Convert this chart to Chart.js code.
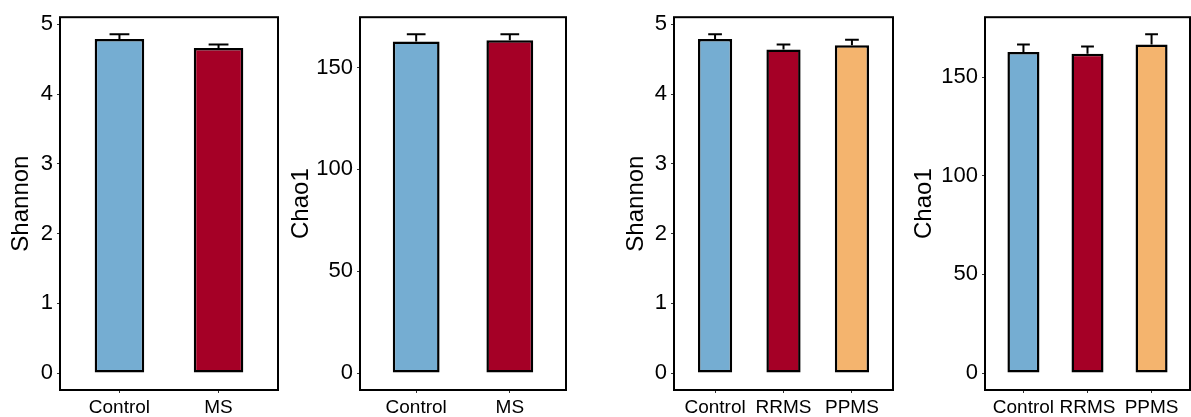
<!DOCTYPE html>
<html>
<head>
<meta charset="utf-8">
<script src="https://cdn.jsdelivr.net/npm/chart.js@4.4.0/dist/chart.umd.min.js"></script>
<style>
  html, body { margin: 0; padding: 0; background: #ffffff; }
  #wrap { position: relative; width: 1191px; height: 417px; overflow: hidden; }
  canvas { position: absolute; top: 0; }
</style>
</head>
<body>
<div id="wrap">
  <canvas id="p1" width="280" height="417" style="left:0px"></canvas>
  <canvas id="p2" width="300" height="417" style="left:280px"></canvas>
  <canvas id="p3" width="285" height="417" style="left:615px"></canvas>
  <canvas id="p4" width="288" height="417" style="left:903px"></canvas>
</div>
<script>
const groupsMS = ['Control', 'MS'];
const groupsSub = ['Control', 'RRMS', 'PPMS'];
const barColors = ['#75ADD2', '#A50026', '#F4B46E'];

const shannonMeanMS = [4.79, 4.66];
const shannonUpperMS = [4.86, 4.71];
const chao1MeanMS = [162.8, 163.4];
const chao1UpperMS = [166.3, 166.4];

const shannonMeanSub = [4.79, 4.64, 4.70];
const shannonUpperSub = [4.86, 4.71, 4.78];
const chao1MeanSub = [162.8, 161.8, 166.5];
const chao1UpperSub = [166.5, 165.5, 171.8];

const shannonTicks = [0, 1, 2, 3, 4, 5];
const chao1Ticks = [0, 50, 100, 150];

const fontFamily = "'Liberation Sans', Arial, Helvetica, sans-serif";

function makePanel(id, title, groups, means, uppers, yTicks, axisWidth, padRight) {
    const top = Math.max(...uppers);
    const ctx = document.getElementById(id).getContext('2d');

    // upper error bar + panel border
    const decorations = {
        id: 'decorations',
        afterDatasetsDraw(chart) {
            const c = chart.ctx;
            const xs = chart.scales.x;
            const ys = chart.scales.y;
            c.save();
            c.strokeStyle = '#000000';
            c.lineWidth = 2;
            means.forEach((m, i) => {
                const x = xs.getPixelForValue(i + 1);
                const half = (xs.getPixelForValue(i + 1.1) - xs.getPixelForValue(i + 0.9)) / 2;
                const y0 = ys.getPixelForValue(m);
                const y1 = ys.getPixelForValue(uppers[i]);
                c.beginPath();
                c.moveTo(x, y0);
                c.lineTo(x, y1);
                c.moveTo(x - half, y1);
                c.lineTo(x + half, y1);
                c.stroke();
            });
            const a = chart.chartArea;
            c.strokeRect(a.left, a.top, a.right - a.left, a.bottom - a.top);
            c.restore();
        }
    };

    return new Chart(ctx, {
        type: 'bar',
        data: {
            datasets: [{
                data: means.map((m, i) => ({ x: i + 1, y: m })),
                backgroundColor: barColors.slice(0, groups.length),
                borderColor: '#000000',
                borderWidth: 2.5,
                borderSkipped: false,
                barPercentage: 0.5,
                categoryPercentage: 1
            }]
        },
        options: {
            responsive: false,
            animation: false,
            devicePixelRatio: 1,
            layout: {
                padding: { left: 0, right: padRight, top: 15, bottom: 0 }
            },
            plugins: {
                legend: { display: false },
                tooltip: { enabled: false }
            },
            scales: {
                x: {
                    type: 'linear',
                    offset: false,
                    min: 0.4,
                    max: groups.length + 0.6,
                    afterBuildTicks: (scale) => {
                        scale.ticks = groups.map((g, i) => ({ value: i + 1 }));
                    },
                    afterFit: (scale) => { scale.height = 27; },
                    ticks: {
                        autoSkip: false,
                        maxRotation: 0,
                        padding: 3,
                        color: '#000000',
                        font: { family: fontFamily, size: 19 },
                        callback: (v) => groups[v - 1]
                    },
                    grid: {
                        offset: false,
                        drawOnChartArea: false,
                        drawTicks: true,
                        tickLength: 3,
                        tickColor: '#333333'
                    },
                    border: { display: false }
                },
                y: {
                    min: -0.05 * top,
                    max: top * 1.05,
                    afterBuildTicks: (scale) => {
                        scale.ticks = yTicks.map(v => ({ value: v }));
                    },
                    afterFit: (scale) => { scale.width = axisWidth; },
                    ticks: {
                        padding: 4,
                        color: '#000000',
                        font: { family: fontFamily, size: 22 }
                    },
                    grid: {
                        drawOnChartArea: false,
                        drawTicks: true,
                        tickLength: 3,
                        tickColor: '#333333'
                    },
                    border: { display: false },
                    title: {
                        display: true,
                        text: title,
                        color: '#000000',
                        padding: { top: 7, bottom: 0 },
                        font: { family: fontFamily, size: 24 }
                    }
                }
            }
        },
        plugins: [decorations]
    });
}

makePanel('p1', 'Shannon', groupsMS, shannonMeanMS, shannonUpperMS, shannonTicks, 60, 2);
makePanel('p2', 'Chao1', groupsMS, chao1MeanMS, chao1UpperMS, chao1Ticks, 80, 14);
makePanel('p3', 'Shannon', groupsSub, shannonMeanSub, shannonUpperSub, shannonTicks, 59, 7);
makePanel('p4', 'Chao1', groupsSub, chao1MeanSub, chao1UpperSub, chao1Ticks, 82, 1);
</script>
</body>
</html>
